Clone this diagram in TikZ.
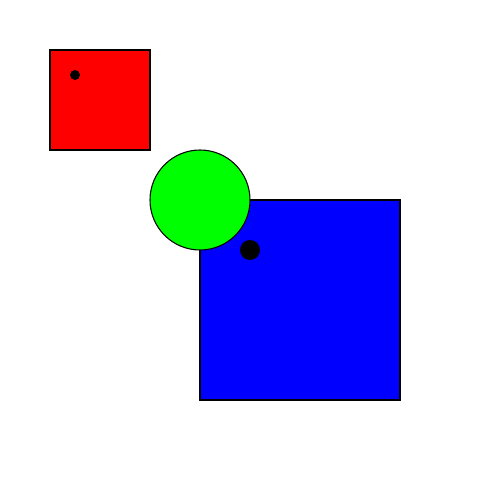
\documentclass[tikz,border=0pt]{standalone}
\begin{document}
\begin{tikzpicture}[x=0.02cm,y=-0.02cm,
  thinline/.style={line width=0.6pt},
  thickline/.style={line width=1.1pt}]
\useasboundingbox (0,0) rectangle (500,500);
\fill[white] (0,0) rectangle (500,500);
\draw[thinline, fill={rgb,255:red,255;green,0;blue,0}] (50,50) rectangle (150,150);
\fill[black] (75,75) circle[radius=5];
\draw[thickline, fill={rgb,255:red,0;green,0;blue,255}] (200,200) rectangle (400,400);
\draw[thinline, fill={rgb,255:red,0;green,255;blue,0}] (200,200) circle[radius=50];
\fill[black] (250,250) circle[radius=10];
\end{tikzpicture}
\end{document}
